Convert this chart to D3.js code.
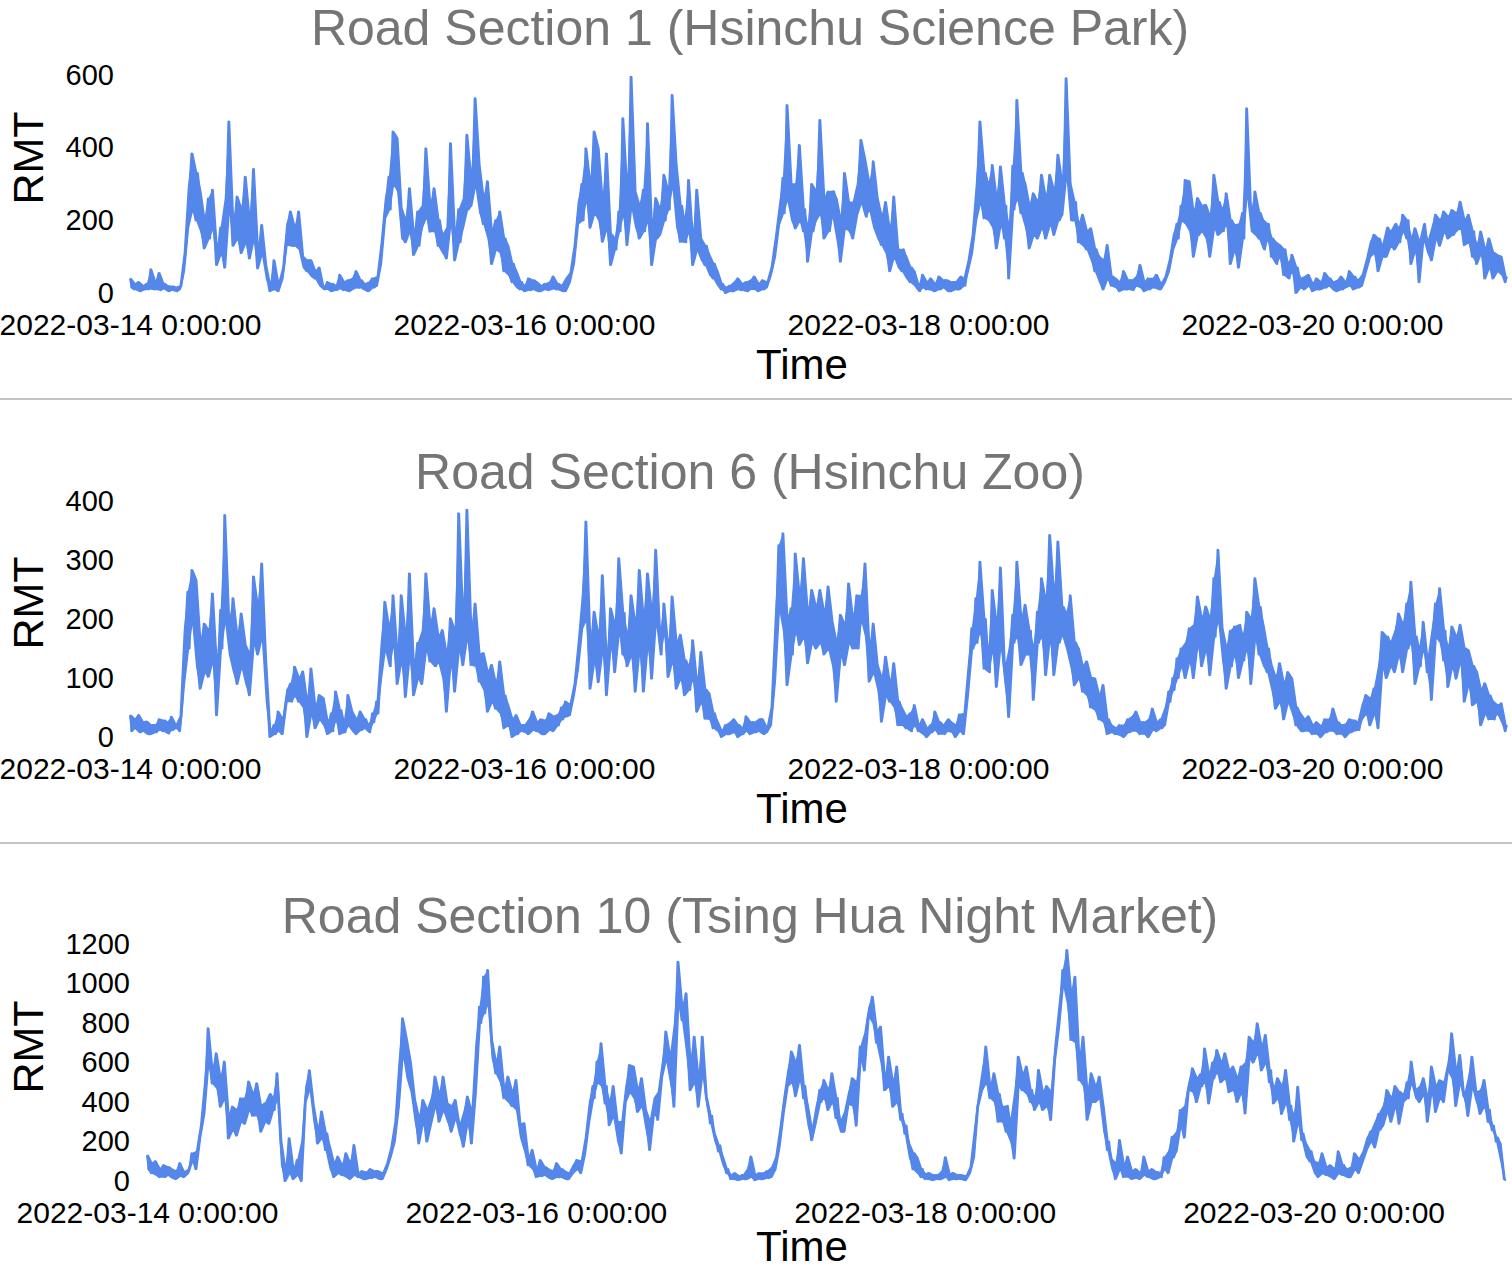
<!DOCTYPE html>
<meta charset="utf-8">
<html>
  <head>
    <!-- Load d3.js -->
    <script src="https://d3js.org/d3.v7.min.js"></script>
    <style>
      body { margin: 0; background: #fff; }
      text { font-family: "Liberation Sans", Arial, sans-serif; }
    </style>
  </head>
  <body>
    <svg id="viz" width="1512" height="1270"></svg>
    <script>
    // one reading every 15 minutes, starting 2022-03-14 0:00:00 (96 per day, one line per day)
    const startTime = new Date(2022, 2, 14, 0, 0, 0);
    const endTime = new Date(2022, 2, 21, 0, 0, 0);
    const stepMinutes = 15;

    const section1 = [
      40,15,10,25,30,5,8,20,25,10,65,12,10,30,55,8,12,25,20,5,8,18,15,5, 10,20,60,110,180,290,384,230,200,330,280,170,123,200,260,150,284,180,77,120,180,110,70,260, 472,240,130,190,265,150,110,230,320,140,95,200,341,150,68,120,187,110,77,40,5,20,90,10, 5,25,40,70,132,190,224,130,130,180,224,120,100,70,60,90,90,45,40,60,70,20,15,10,
      30,10,5,25,20,8,50,12,8,30,35,5,10,40,60,15,15,35,25,8,5,30,40,15, 20,45,80,140,206,260,320,230,444,300,426,280,233,150,140,200,288,170,105,160,224,130,180,240, 398,210,169,240,288,170,130,200,160,110,95,180,412,200,90,160,230,140,180,260,435,230,240,310, 536,300,352,220,190,260,307,150,80,170,200,120,224,110,60,150,130,50,30,80,60,15,10,30,
      5,20,40,8,10,35,30,5,5,20,25,10,8,30,45,12,10,25,20,5,5,40,30,55, 80,130,190,250,300,200,398,260,180,300,444,220,398,200,141,250,384,180,77,160,150,120,224,170, 481,220,132,280,595,240,279,180,150,240,284,170,467,200,77,180,261,150,160,230,325,200,279,230, 545,300,352,180,141,240,200,140,311,170,77,150,284,120,150,90,77,130,105,50,40,80,60,20,
      10,25,0,15,20,5,5,30,40,10,8,25,30,5,10,35,45,10,5,25,35,10,15,30, 50,70,100,150,190,240,316,220,517,260,300,200,178,300,407,200,170,230,86,180,300,170,200,280, 476,220,150,260,279,170,215,280,260,150,86,200,330,180,250,170,150,250,215,300,421,250,366,210, 300,230,362,180,260,150,132,210,250,110,60,170,265,100,120,70,60,120,100,40,30,70,60,20,
      20,5,50,15,10,30,40,8,5,25,45,10,15,35,35,5,5,30,30,10,10,45,40,20, 60,90,110,160,200,300,472,250,206,330,300,200,352,180,123,260,348,190,150,240,40,180,350,230, 531,260,220,330,300,180,123,240,274,160,150,250,325,180,150,260,325,190,160,280,380,200,215,300, 591,330,300,200,200,250,140,190,215,130,120,170,178,90,60,120,100,30,10,90,132,40,20,45,
      40,15,5,30,60,10,10,35,35,8,20,45,77,15,5,30,40,10,15,40,50,12,10,25, 30,45,60,90,120,160,190,150,240,200,311,190,307,170,100,220,261,160,170,240,242,150,100,210, 325,180,160,250,230,170,274,190,80,200,187,120,70,190,220,150,508,280,220,170,279,160,150,220, 200,120,150,190,100,150,140,80,132,100,50,120,80,40,105,60,0,70,40,15,10,45,50,20,
      5,25,40,10,10,30,55,15,20,40,30,8,5,35,45,10,15,30,60,20,10,45,35,15, 20,50,60,90,100,140,160,110,60,150,130,100,100,180,169,130,120,190,178,140,215,170,150,200, 80,150,178,120,30,140,150,190,140,110,90,180,215,150,130,200,224,170,150,210,228,160,170,220, 251,180,132,200,215,140,100,170,80,130,169,110,40,120,150,70,40,110,105,60,100,50,30,45
    ];

    const section6 = [
      37,10,15,30,37,8,10,25,26,5,5,20,20,8,30,12,10,28,25,6,34,12,15,20, 10,35,90,180,246,150,283,200,266,120,82,160,192,110,102,180,243,130,37,120,215,150,376,200, 195,140,235,110,90,170,209,120,156,90,71,140,272,160,140,220,294,170,128,60,0,10,20,5, 43,10,5,30,60,80,90,60,119,70,60,100,111,50,0,60,116,40,15,50,71,30,66,20,
      5,25,40,10,77,30,5,45,26,8,71,20,43,10,5,30,43,12,15,30,20,8,40,25, 60,40,99,160,229,150,184,120,240,160,90,140,240,130,68,170,277,140,71,120,159,100,90,180, 277,150,128,190,218,120,128,170,181,100,43,140,201,130,77,180,379,150,122,200,385,170,122,180, 226,120,94,140,142,80,43,110,122,60,48,90,128,40,15,70,54,20,0,30,37,5,10,20,
      20,8,5,30,43,12,10,25,30,5,5,28,40,12,10,35,37,20,50,30,60,35,37,55, 71,90,116,160,184,240,365,200,82,160,212,130,93,170,274,150,71,130,218,160,110,190,303,180, 140,210,120,170,240,140,77,190,283,150,77,200,277,160,99,210,317,200,173,140,226,180,102,150, 238,130,82,160,173,100,71,130,120,80,164,100,43,90,144,60,31,80,74,30,15,40,26,10,
      0,10,20,5,5,25,30,8,0,20,15,5,35,10,5,25,25,8,10,30,30,5,8,15, 20,50,96,200,325,220,345,180,88,200,218,140,311,180,156,240,303,170,125,210,249,160,150,220, 249,160,140,210,255,150,195,120,60,160,207,140,122,190,260,160,150,200,240,150,200,240,294,170, 94,150,192,110,122,80,26,100,136,70,60,90,125,50,20,60,48,20,15,35,40,10,54,20,
      10,20,30,5,0,15,20,8,43,12,5,25,20,5,10,30,25,8,0,20,38,10,5,40, 71,120,184,150,235,160,297,180,116,200,140,110,249,150,85,190,287,160,116,90,34,150,207,160, 297,170,122,200,224,140,140,180,63,150,212,160,269,170,105,230,342,170,105,240,331,160,173,220, 210,150,240,120,88,160,150,100,77,120,128,70,50,100,99,45,30,70,88,25,5,30,20,8,
      5,15,20,3,0,20,30,8,10,35,43,10,5,25,25,5,0,30,48,12,10,25,30,15, 20,50,77,60,100,80,133,100,150,120,100,160,184,130,100,190,238,160,120,200,221,150,105,200, 269,170,317,200,185,130,82,150,180,120,187,140,100,190,170,130,212,150,90,200,269,170,140,220, 190,120,110,150,122,80,48,100,125,60,30,90,110,60,99,40,20,50,40,10,10,30,35,10,
      5,20,25,5,0,18,30,8,10,30,48,10,5,25,20,5,0,22,30,8,10,28,25,12, 30,55,71,40,20,65,82,40,15,120,178,120,100,170,160,120,110,180,209,140,110,190,226,150, 263,160,90,170,150,120,195,150,110,130,63,180,226,170,252,160,130,180,85,150,187,120,99,170, 190,130,60,150,147,90,54,120,111,60,20,80,91,40,30,70,60,30,54,40,57,25,10,20
    ];

    const section10 = [
      131,60,40,90,100,30,20,60,80,20,30,70,60,15,10,50,90,25,20,45,40,60,140,100, 60,150,224,280,342,500,773,600,494,560,646,470,376,520,604,420,216,330,376,260,230,360,418,300, 290,420,503,360,330,440,494,330,250,380,393,300,290,440,420,360,545,420,200,80,0,60,216,40, 10,60,106,30,0,200,400,480,560,470,380,300,190,260,351,220,157,240,174,60,20,90,123,40,
      30,80,140,20,10,90,182,30,20,40,50,10,10,45,60,15,20,50,50,10,10,40,60,90, 123,170,200,300,376,600,823,650,714,520,595,450,410,300,190,320,410,300,200,360,292,420,528,380, 300,440,528,360,393,300,250,380,410,320,280,230,174,350,427,300,190,350,444,700,882,800,1034,850, 1068,900,714,620,545,600,680,500,420,470,528,400,380,450,511,360,290,220,292,150,80,120,157,60,
      20,60,106,25,30,70,60,15,10,50,90,20,20,60,50,10,10,40,40,80,106,60,40,100, 140,220,300,400,480,420,604,500,697,480,393,480,283,400,480,330,300,200,140,300,400,480,587,450, 579,420,350,460,520,380,360,260,157,300,342,420,310,450,528,600,756,620,629,500,376,800,1110,900, 815,880,950,650,460,600,730,500,376,520,730,550,427,380,292,330,241,200,150,180,123,80,40,60,
      10,30,40,8,5,25,30,10,10,60,123,20,5,30,40,10,10,40,50,15,20,70,60,120, 174,260,342,420,480,560,655,500,430,600,688,520,420,480,380,280,207,260,300,380,460,400,511,420, 360,460,545,400,320,420,300,250,250,350,390,450,520,380,280,500,680,620,560,750,832,880,933,800, 700,760,781,600,460,520,629,480,376,500,579,400,310,340,240,280,190,120,60,140,120,40,20,60,
      10,35,40,8,5,30,30,10,10,50,120,20,5,35,40,10,10,30,30,8,5,25,40,70, 120,250,376,420,460,560,680,500,420,480,545,400,300,440,376,300,250,380,300,200,114,450,629,480, 460,540,579,440,400,460,360,420,562,400,360,450,480,380,309,450,612,700,781,900,1068,1000,1169,900, 714,950,1034,700,511,620,730,480,310,450,545,400,400,480,528,420,376,250,157,200,110,60,10,90,
      207,60,20,80,123,20,10,50,60,15,10,40,123,30,20,50,60,10,10,45,40,20,120,60, 40,150,224,120,150,250,359,280,220,380,460,500,570,450,400,520,540,480,671,500,393,540,600,520, 663,550,500,600,646,520,450,560,579,460,400,520,579,450,342,600,730,620,600,700,798,650,560,680, 739,600,500,560,393,470,520,420,340,480,562,400,309,380,200,330,477,300,207,240,190,120,100,150,
      100,40,20,90,140,40,30,70,80,20,10,60,150,40,30,80,60,20,20,70,140,60,40,110, 100,150,160,220,250,200,170,300,340,260,280,380,460,350,300,420,480,380,290,450,400,440,500,420, 604,500,460,420,400,480,520,440,300,420,579,460,350,480,510,420,400,500,560,600,747,520,380,560, 638,500,430,420,330,520,629,480,450,400,340,460,511,380,300,360,258,280,200,220,190,100,10,5
    ];

    const titles = [
      "Road Section 1 (Hsinchu Science Park)",
      "Road Section 6 (Hsinchu Zoo)",
      "Road Section 10 (Tsing Hua Night Market)"
    ];
    const yTicks1 = [0, 200, 400, 600];
    const yTicks6 = [0, 100, 200, 300, 400];
    const yTicks10 = [0, 200, 400, 600, 800, 1000, 1200];
    const xTickLabels = ["2022-03-14", "2022-03-16", "2022-03-18", "2022-03-20"];

    const lineColor = "#5587ea";
    const titleColor = "#757575";

    var svg = d3.select("#viz");
    var parseDay = d3.timeParse("%Y-%m-%d");
    var fmt = d3.timeFormat("%Y-%m-%d %-H:%M:%S");
    var xTicks = xTickLabels.map(parseDay);
    var stepMs = stepMinutes * 60000;

    function toSeries(values) {
        return values.map(function(v, i) {
            return { time: new Date(startTime.getTime() + i * stepMs), value: v };
        });
    }

    // the line is so dense that it reads as a band: min/max of each pair of readings
    function toBand(values) {
        return d3.range(0, values.length, 2).map(function(j) {
            var w = values.slice(j, j + 2);
            return { time: new Date(startTime.getTime() + (j + 0.5) * stepMs), lo: d3.min(w), hi: d3.max(w) };
        });
    }

    // each panel is 444px tall; plot bottom sits at local y=293
    var panels = [
        { title: titles[0], values: section1, ticks: yTicks1, left: 130, right: 1509, top: 75, pad: 16, timeY: 379 },
        { title: titles[1], values: section6, ticks: yTicks6, left: 130, right: 1509, top: 57, pad: 16, timeY: 379 },
        { title: titles[2], values: section10, ticks: yTicks10, left: 147, right: 1508, top: 56, pad: 17, timeY: 373 }
    ];

    var base = 293;

    panels.forEach(function(p, k) {
        var g = svg.append("g").attr("transform", "translate(0," + (k * 444) + ")");
        var data = toSeries(p.values);
        var band = toBand(p.values);

        var x = d3.scaleTime()
            .domain([startTime, endTime])
            .range([p.left, p.right]);

        var y = d3.scaleLinear()
            .domain([0, d3.max(p.ticks)])
            .range([base, p.top]);

        // title
        g.append("text")
            .attr("x", 750)
            .attr("y", 45)
            .attr("text-anchor", "middle")
            .style("font-size", "50px")
            .style("fill", titleColor)
            .text(p.title);

        // y axis (no domain line, no tick marks)
        var yAxis = g.append("g")
            .attr("transform", "translate(" + p.left + ",0)")
            .call(d3.axisLeft(y).tickValues(p.ticks).tickSize(0).tickPadding(p.pad).tickFormat(d3.format("d")));
        yAxis.select(".domain").remove();
        yAxis.selectAll("text").style("font-size", "29px").style("font-family", "Liberation Sans, Arial, sans-serif").attr("fill", "#000");

        // x axis
        var xAxis = g.append("g")
            .attr("transform", "translate(0," + base + ")")
            .call(d3.axisBottom(x).tickValues(xTicks).tickSize(0).tickPadding(21).tickFormat(fmt));
        xAxis.select(".domain").remove();
        xAxis.selectAll("text").style("font-size", "30px").style("font-family", "Liberation Sans, Arial, sans-serif").attr("fill", "#000");

        // axis titles
        g.append("text")
            .attr("transform", "translate(43," + (k == 0 ? 158 : 159) + ")rotate(-90)")
            .attr("text-anchor", "middle")
            .style("font-size", "43px")
            .text("RMT");

        g.append("text")
            .attr("x", 802)
            .attr("y", p.timeY)
            .attr("text-anchor", "middle")
            .style("font-size", "42px")
            .text("Time");

        // band of the dense series
        var area = d3.area()
            .x(function(d) { return x(d.time); })
            .y0(function(d) { return y(d.lo); })
            .y1(function(d) { return y(d.hi); });

        g.append("path")
            .datum(band)
            .attr("d", area)
            .attr("fill", lineColor)
            .attr("stroke", lineColor)
            .attr("stroke-width", 1.5)
            .attr("stroke-linejoin", "round");

        // the series itself
        var line = d3.line()
            .x(function(d) { return x(d.time); })
            .y(function(d) { return y(d.value); });

        g.append("path")
            .datum(data)
            .attr("d", line)
            .attr("fill", "none")
            .attr("stroke", lineColor)
            .attr("stroke-width", 2.2)
            .attr("stroke-linejoin", "round");

        // separator under the panel
        if (k < 2) {
            g.append("line")
                .attr("x1", 0).attr("x2", 1512)
                .attr("y1", 399).attr("y2", 399)
                .attr("stroke", "#c4c4c4")
                .attr("stroke-width", 2);
        }
    });
    </script>
  </body>
</html>
